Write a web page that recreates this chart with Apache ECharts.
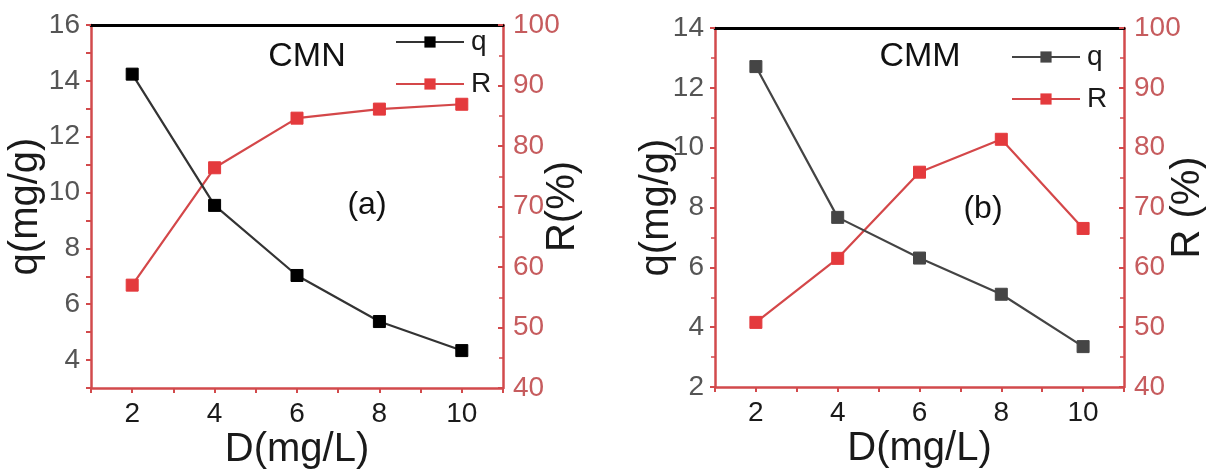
<!DOCTYPE html>
<html>
<head>
<meta charset="utf-8">
<script src="https://cdn.jsdelivr.net/npm/echarts@6/dist/echarts.min.js"></script>
<style>
html,body{margin:0;padding:0;background:#fff;}
#chart{width:1206px;height:469px;}
</style>
</head>
<body>
<div id="chart"></div>
<script>
// ---- data ----
var dValues = [2, 4, 6, 8, 10];
var qCMN = [14.24, 9.54, 7.03, 5.38, 4.34];
var rCMN = [57.0, 76.4, 84.6, 86.1, 86.9];
var qCMM = [12.71, 7.67, 6.31, 5.10, 3.35];
var rCMM = [50.8, 61.5, 75.9, 81.4, 66.5];
var xTickLabels = ['2', '4', '6', '8', '10'];

var FONT = '"Liberation Sans", Arial, sans-serif';
var RED_AXIS = '#d24a4c';
var RED_LABEL = '#c65c5e';
var RED_SERIES = '#e43a3d';
var RED_LINE = '#d44749';

function pairs(xs, ys) { return xs.map(function (x, i) { return [x, ys[i]]; }); }

function xAxisBottom(gi) {
  return {
    type: 'value', gridIndex: gi, position: 'bottom', min: 1, max: 11, interval: 1,
    name: 'D(mg/L)', nameLocation: 'middle', nameGap: 42, nameMoveOverlap: false,
    nameTextStyle: { fontSize: 40, fontFamily: FONT, color: '#1a1a1a' },
    axisLine: { show: true, onZero: false, lineStyle: { color: RED_AXIS, width: 2.5 } },
    axisTick: { show: true, length: 5, lineStyle: { color: RED_AXIS, width: 2 } },
    axisLabel: { fontSize: 28, fontFamily: FONT, color: '#1a1a1a', margin: 12,
      formatter: function (v) { return xTickLabels.indexOf(String(v)) >= 0 ? String(v) : ''; } },
    splitLine: { show: false }
  };
}
function xAxisTop(gi) {
  return {
    type: 'value', gridIndex: gi, position: 'top', min: 1, max: 11, interval: 1,
    axisLine: { show: true, onZero: false, lineStyle: { color: '#000', width: 3 } },
    axisTick: { show: false }, axisLabel: { show: false }, splitLine: { show: false }
  };
}
function yLeft(gi, min, max, interval, evenOnly, gap) {
  return {
    type: 'value', gridIndex: gi, position: 'left', min: min, max: max, interval: interval,
    name: 'q(mg/g)', nameLocation: 'middle', nameGap: gap, nameRotate: 90, nameMoveOverlap: false,
    nameTextStyle: { fontSize: 40, fontFamily: FONT, color: '#1a1a1a' },
    axisLine: { show: true, onZero: false, lineStyle: { color: RED_AXIS, width: 2.5 } },
    axisTick: { show: true, length: 5, lineStyle: { color: RED_AXIS, width: 2 } },
    minorTick: { show: !evenOnly, splitNumber: 2, length: 4, lineStyle: { color: RED_AXIS, width: 1.5 } },
    axisLabel: { fontSize: 28, fontFamily: FONT, color: '#555', margin: 11,
      formatter: function (v) { return (v % 2 === 0) ? String(v) : ''; } },
    splitLine: { show: false }
  };
}
function yRight(gi, name, gap) {
  return {
    type: 'value', gridIndex: gi, position: 'right', min: 40, max: 100, interval: 10,
    name: name, nameLocation: 'middle', nameGap: gap, nameRotate: 90, nameMoveOverlap: false,
    nameTextStyle: { fontSize: 40, fontFamily: FONT, color: '#1a1a1a' },
    axisLine: { show: true, onZero: false, lineStyle: { color: RED_AXIS, width: 2.5 } },
    axisTick: { show: true, inside: true, length: 5, lineStyle: { color: RED_AXIS, width: 2 } },
    minorTick: { show: true, splitNumber: 2, length: 4, lineStyle: { color: RED_AXIS, width: 1.5 } },
    axisLabel: { fontSize: 28, fontFamily: FONT, color: RED_LABEL, margin: 10 },
    splitLine: { show: false }
  };
}
function lineSeries(name, xi, yi, data, lineColor, markColor, z) {
  return {
    type: 'line', name: name, xAxisIndex: xi, yAxisIndex: yi, data: data,
    symbol: 'rect', symbolSize: 12, showSymbol: true,
    lineStyle: { color: lineColor, width: 2.2 },
    itemStyle: { color: markColor, borderColor: markColor },
    z: z
  };
}
function legendAt(left, top, names) {
  return {
    orient: 'vertical', left: left, top: top, padding: 0,
    itemWidth: 68, itemHeight: 14, itemGap: 14,
    data: names,
    textStyle: { fontSize: 28, fontFamily: FONT, color: '#1a1a1a', padding: [0, 0, 0, 2] }
  };
}

var chart = echarts.init(document.getElementById('chart'), null, { renderer: 'canvas' });
var option = {
  animation: false,
  backgroundColor: '#fff',
  grid: [
    { left: 91, top: 25, width: 412, height: 363, containLabel: false, outerBoundsMode: 'none' },
    { left: 715, top: 28, width: 409, height: 359, containLabel: false, outerBoundsMode: 'none' }
  ],
  xAxis: [xAxisBottom(0), xAxisTop(0), xAxisBottom(1), xAxisTop(1)],
  yAxis: [yLeft(0, 3, 16, 1, true, 45), yRight(0, 'R(%)', 40), yLeft(1, 2, 14, 2, false, 38), yRight(1, 'R (%)', 44)],
  legend: [
    legendAt(395, 28, ['q', 'R']),
    legendAt(1011, 43, ['q ', 'R '])
  ],
  graphic: [
    { type: 'text', x: 307, y: 57, style: { text: 'CMN', font: '34px ' + FONT, fill: '#111', align: 'center', verticalAlign: 'middle' } },
    { type: 'text', x: 367, y: 205, style: { text: '(a)', font: '32px ' + FONT, fill: '#111', align: 'center', verticalAlign: 'middle' } },
    { type: 'text', x: 920, y: 57, style: { text: 'CMM', font: '34px ' + FONT, fill: '#111', align: 'center', verticalAlign: 'middle' } },
    { type: 'text', x: 983, y: 209, style: { text: '(b)', font: '32px ' + FONT, fill: '#111', align: 'center', verticalAlign: 'middle' } }
  ],
  series: [
    lineSeries('q', 0, 0, pairs(dValues, qCMN), '#333', '#000', 3),
    lineSeries('R', 0, 1, pairs(dValues, rCMN), RED_LINE, RED_SERIES, 2),
    lineSeries('q ', 2, 2, pairs(dValues, qCMM), '#444', '#454545', 3),
    lineSeries('R ', 2, 3, pairs(dValues, rCMM), RED_LINE, RED_SERIES, 2)
  ]
};
chart.setOption(option);
</script>
</body>
</html>
